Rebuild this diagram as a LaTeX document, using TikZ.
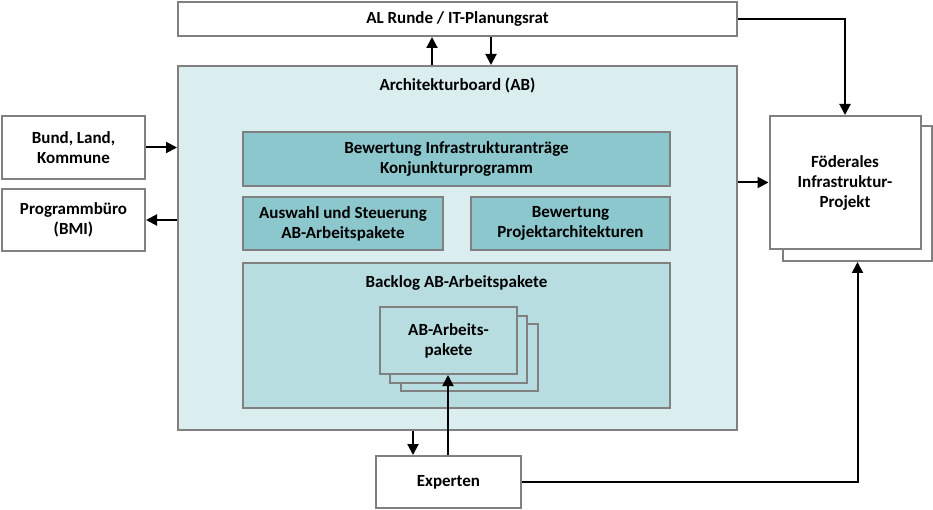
\documentclass[tikz,border=0pt]{standalone}
\usepackage{fontspec}
\setmainfont{Carlito}
\usetikzlibrary{arrows.meta}
\definecolor{bord}{HTML}{808080}
\definecolor{abfill}{HTML}{DAEDEF}
\definecolor{dark}{HTML}{8CC7CD}
\definecolor{mid}{HTML}{B7DDE0}
\begin{document}
\begin{tikzpicture}[x=1pt,y=-1pt,font=\bfseries\fontsize{17}{20}\selectfont,
  box/.style={draw=bord,line width=2pt,fill=white,align=center,inner sep=0pt},
  arr/.style={-{Triangle[length=11pt,width=11pt]},line width=2pt,black},
  lbl/.style={inner sep=0pt,align=center}]
\path[use as bounding box] (0,0) rectangle (933,510);
% top
\node[box,minimum width=559,minimum height=34] (al) at (457.5,19) {AL Runde / IT-Planungsrat};
% architecture board
\node[box,fill=abfill,minimum width=559,minimum height=364] (ab) at (457.5,248) {};
\node[lbl] (abt) at (457.5,85) {Architekturboard (AB)};
\node[box,fill=dark,minimum width=427,minimum height=54] (bew) at (456.5,159) {Bewertung Infrastrukturanträge\\Konjunkturprogramm};
\node[box,fill=dark,minimum width=200,minimum height=53] (aus) at (343,223.5) {Auswahl und Steuerung\\AB-Arbeitspakete};
\node[box,fill=dark,minimum width=199,minimum height=53] (proj) at (570.5,223.5) {Bewertung\\Projektarchitekturen};
\node[box,fill=mid,minimum width=427,minimum height=145] (back) at (456.5,335.5) {};
\node[lbl] (backt) at (456.5,283) {Backlog AB-Arbeitspakete};
\node[box,fill=mid,minimum width=137,minimum height=67] (ap3) at (469,357.5) {};
\node[box,fill=mid,minimum width=137,minimum height=67] (ap2) at (458.5,349) {};
\node[box,fill=mid,minimum width=137,minimum height=67] (ap) at (448.5,340.5) {AB-Arbeits-\\pakete};
% left
\node[box,minimum width=143,minimum height=63] (bund) at (73.5,147.5) {Bund, Land,\\Kommune};
\node[box,minimum width=143,minimum height=62] (prog) at (73.5,220) {Programmbüro\\(BMI)};
% right
\node[box,minimum width=149,minimum height=135] (fd2) at (857.5,193.5) {};
\node[box,minimum width=151,minimum height=133] (fd) at (845,182.5) {Föderales\\Infrastruktur-\\Projekt};
% bottom
\node[box,minimum width=145,minimum height=52] (exp) at (448.5,482) {Experten};
% connectors
\draw[arr] (432,0 |- ab.north) -- (432,0 |- al.south);
\draw[arr] (491,0 |- al.south) -- (491,0 |- ab.north);
\draw[arr] (bund.east) -- (bund.east -| ab.west);
\draw[arr] (prog.east -| ab.west) -- (prog.east);
\draw[arr] (ab.east |- fd.west) -- (fd.west);
\draw[arr] (al.east) -| (fd.north);
\draw[arr] (exp.east) -| (fd2.south);
\draw[arr] (413,0 |- ab.south) -- (413,0 |- exp.north);
\draw[arr] (448,0 |- exp.north) -- (448,0 |- ap.south);
\end{tikzpicture}
\end{document}
